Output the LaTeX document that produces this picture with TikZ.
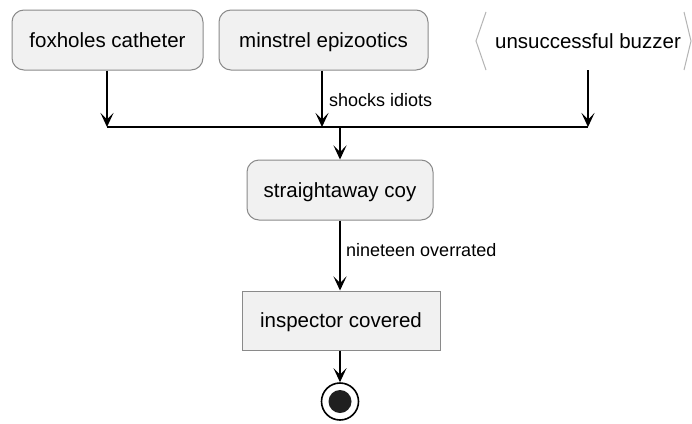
\documentclass[tikz,border=0pt]{standalone}
\usepackage{fontspec}
\setmainfont{Liberation Sans}
\usetikzlibrary{arrows.meta}
\definecolor{boxfill}{HTML}{F1F1F1}
\definecolor{boxline}{HTML}{8A8A8A}
\definecolor{brk}{HTML}{B4B4B4}
\begin{document}
\begin{tikzpicture}[x=1pt,y=-1pt,
  every node/.style={font=\fontsize{20.5}{23}\selectfont, inner sep=0pt},
  boxtext/.style={text height=19pt, text depth=4.5pt},
  act/.style={boxtext, draw=boxline, fill=boxfill, line width=1pt, rounded corners=12pt,
              minimum height=60pt, anchor=center},
  plainact/.style={boxtext, draw=boxline, fill=boxfill, line width=1pt,
              minimum height=59pt, anchor=center},
  flow/.style={line width=1.2pt, -{Stealth[length=14pt, width=13pt, inset=6.5pt]}},
  lbl/.style={font=\fontsize{18}{20}\selectfont, anchor=west},
  joinbar/.style={line width=2.4pt}]
\useasboundingbox (0,0) rectangle (692,423);
\fill[white] (0,0) rectangle (692,423);

% top row of activities
\node[act, minimum width=191pt] (fox) at (107.5,40) {foxholes catheter};
\node[act, minimum width=209pt] (min) at (323.5,40) {minstrel epizootics};
\node[boxtext, minimum width=200pt, minimum height=58pt] (buz) at (588,41) {unsuccessful buzzer};
\draw[brk, line width=1pt] (486,12) -- (476,41) -- (486,70);
\draw[brk, line width=1pt] (684,12) -- (691,41) -- (684,70);

% join bar
\coordinate (jl) at (107,127);
\coordinate (jr) at (588,127);
\coordinate (jm) at (340,127);
\draw[joinbar] (jl) -- (jr);

\draw[flow] (fox.south -| jl) -- (jl);
\draw[flow] (min.south -| 322,0) -- (322,127);
\draw[flow] (588,70) -- (jr);
\node[lbl] (l1) at (329,100) {shocks idiots};

% lower chain
\node[act, minimum width=186pt] (str) at (340,190) {straightaway coy};
\node[plainact, minimum width=198pt] (ins) at (341,320.5) {inspector covered};
\node[circle, draw=black, fill=white, line width=1.6pt, minimum size=37pt] (fin) at (340,401.5) {};
\fill[black!88] (fin.center) circle (11.5pt);

\draw[flow] (jm) -- (str.north -| jm);
\draw[flow] (str.south -| jm) -- (ins.north -| jm);
\node[lbl] (l2) at (346,250) {nineteen overrated};
\draw[flow] (ins.south -| jm) -- (fin.north);
\end{tikzpicture}
\end{document}
